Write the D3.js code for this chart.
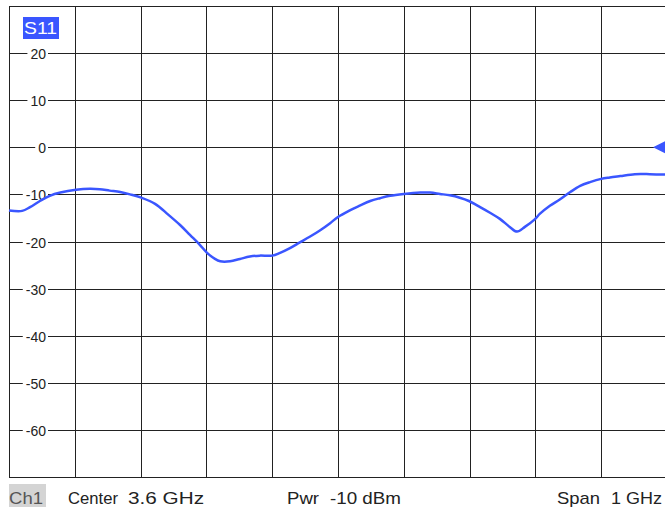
<!DOCTYPE html>
<html>
<head>
<meta charset="utf-8">
<script src="https://cdn.jsdelivr.net/npm/d3@7"></script>
<style>
  body { margin: 0; background: #fff; }
  text { font-family: "Liberation Sans", Arial, sans-serif; }
</style>
</head>
<body>
<div id="chart"></div>
<script>
// Frequenz (GHz) und S11 (dB)
var freq = [3.100, 3.120, 3.132, 3.147, 3.162, 3.178, 3.202, 3.223, 3.238, 3.253,
            3.269, 3.284, 3.301, 3.322, 3.342, 3.360, 3.375, 3.390, 3.401, 3.413,
            3.421, 3.436, 3.451, 3.466, 3.481, 3.500, 3.512, 3.527, 3.542, 3.557,
            3.573, 3.588, 3.600, 3.618, 3.633, 3.649, 3.664, 3.679, 3.700, 3.725,
            3.740, 3.755, 3.770, 3.785, 3.799, 3.816, 3.831, 3.846, 3.861, 3.872,
            3.884, 3.899, 3.907, 3.922, 3.937, 3.953, 3.968, 3.983, 4.000, 4.013,
            4.029, 4.051, 4.074, 4.097];
var s11 = [-13.4, -13.5, -12.7, -11.4, -10.3, -9.6, -9.0, -8.8, -8.9, -9.2,
           -9.5, -10.0, -10.7, -12.0, -14.3, -16.5, -18.6, -20.7, -22.4, -23.7,
           -24.2, -24.2, -23.7, -23.2, -23.0, -23.0, -22.4, -21.4, -20.2, -19.0,
           -17.6, -16.1, -14.8, -13.4, -12.4, -11.4, -10.8, -10.3, -9.9, -9.6,
           -9.6, -9.9, -10.2, -10.7, -11.4, -12.7, -13.9, -15.2, -16.9, -17.9,
           -16.9, -15.3, -14.1, -12.4, -11.1, -9.5, -8.2, -7.4, -6.7, -6.4,
           -6.1, -5.7, -5.7, -5.8];

var yTicks = [20, 10, 0, -10, -20, -30, -40, -50, -60];
var refLevel = 0;

var width = 665, height = 508;
var plotL = 9, plotR = 667, plotT = 6, plotB = 477;

var svg = d3.select("#chart").append("svg")
    .attr("width", width)
    .attr("height", height);

var x = d3.scaleLinear().domain([3.1, 4.1]).range([plotL, plotR]);
var y = d3.scaleLinear().domain([-70, 30]).range([plotB, plotT]);

// Gitter
var grid = svg.append("g").attr("stroke", "#222").attr("stroke-width", 1).attr("shape-rendering", "crispEdges");
grid.selectAll(".v").data(d3.range(0, 11)).enter().append("line")
    .attr("x1", function(d) { return Math.round(x(3.1 + d / 10)) + 0.5; })
    .attr("x2", function(d) { return Math.round(x(3.1 + d / 10)) + 0.5; })
    .attr("y1", plotT).attr("y2", plotB);
grid.selectAll(".h").data(d3.range(-70, 31, 10)).enter().append("line")
    .attr("y1", function(d) { return Math.round(y(d)) + 0.5; })
    .attr("y2", function(d) { return Math.round(y(d)) + 0.5; })
    .attr("x1", plotL).attr("x2", plotR);

// Y-Beschriftung mit weissem Hintergrund
var lab = svg.append("g");
yTicks.forEach(function(t) {
    var yy = Math.round(y(t)) + 0.5;
    var txt = lab.append("text")
        .attr("x", 46)
        .attr("y", yy)
        .attr("dy", "0.36em")
        .attr("text-anchor", "end")
        .style("font-size", "14px")
        .attr("fill", "#222")
        .text(t);
    var bb = txt.node().getBBox();
    lab.insert("rect", "text")
        .attr("x", bb.x - 3)
        .attr("y", yy - 6)
        .attr("width", 48 - (bb.x - 3))
        .attr("height", 12)
        .attr("fill", "#fff");
});

// Messkurve
var line = d3.line()
    .x(function(d, i) { return x(freq[i]); })
    .y(function(d) { return y(d); })
    .curve(d3.curveCatmullRom);

svg.append("path")
    .datum(s11)
    .attr("fill", "none")
    .attr("stroke", "#3a56ff")
    .attr("stroke-width", 2.5)
    .attr("d", line);

// Referenzpegel-Marker
var ry = y(refLevel);
svg.append("path")
    .attr("d", "M" + (plotR - 14) + "," + ry + "L" + plotR + "," + (ry - 7) + "L" + plotR + "," + (ry + 7) + "Z")
    .attr("fill", "#3a56ff");

// S11 Etikett
svg.append("rect")
    .attr("x", 23).attr("y", 17).attr("width", 36).attr("height", 22)
    .attr("fill", "#3a56ff");
svg.append("text")
    .attr("x", 24).attr("y", 34)
    .attr("textLength", 33).attr("lengthAdjust", "spacingAndGlyphs")
    .style("font-size", "17px")
    .attr("fill", "#fff")
    .text("S11");

// Fusszeile
svg.append("rect")
    .attr("x", 9).attr("y", 484).attr("width", 37).attr("height", 23)
    .attr("fill", "#d4d4d4");
var foot = [
    { t: "Ch1", x: 9, w: 34, fill: "#555" },
    { t: "Center", x: 68, w: 50, fill: "#222" },
    { t: "3.6 GHz", x: 128, w: 76, fill: "#222" },
    { t: "Pwr", x: 287, w: 32, fill: "#222" },
    { t: "-10 dBm", x: 330, w: 71, fill: "#222" },
    { t: "Span", x: 557, w: 43, fill: "#222" },
    { t: "1 GHz", x: 611, w: 51, fill: "#222" }
];
svg.selectAll(".foot").data(foot).enter().append("text")
    .attr("x", function(d) { return d.x; })
    .attr("y", 504)
    .attr("textLength", function(d) { return d.w; })
    .attr("lengthAdjust", "spacingAndGlyphs")
    .style("font-size", "17px")
    .attr("fill", function(d) { return d.fill; })
    .text(function(d) { return d.t; });
</script>
</body>
</html>
